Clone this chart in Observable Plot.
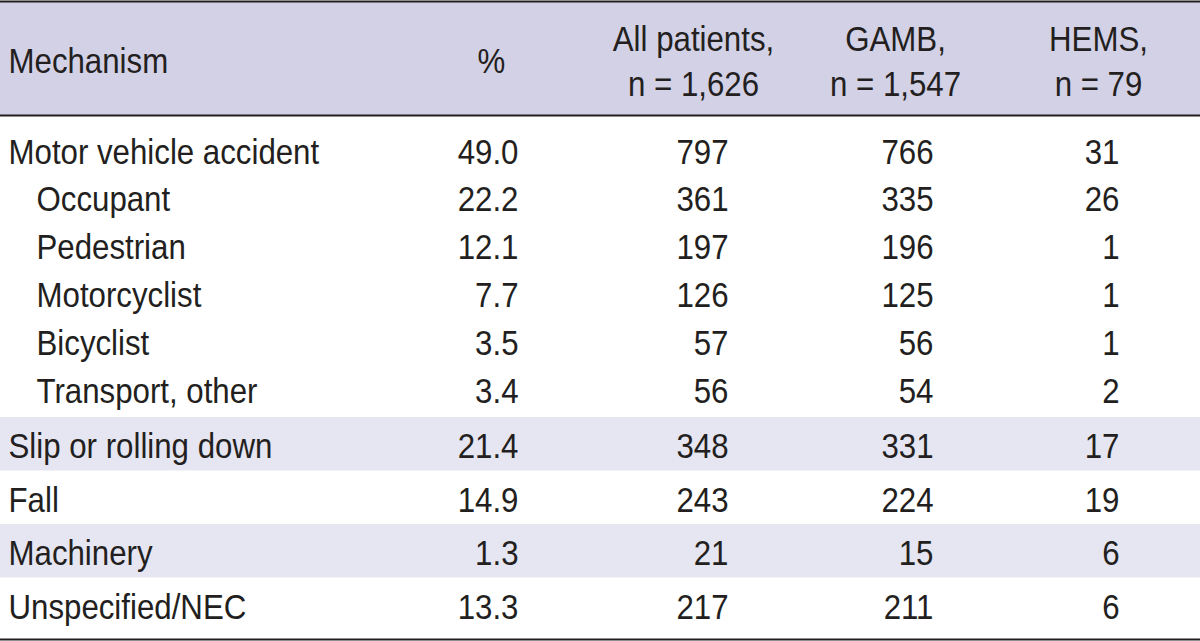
<!DOCTYPE html>
<html>
<head>
<meta charset="utf-8">
<script src="https://cdn.jsdelivr.net/npm/d3@7"></script>
<script src="https://cdn.jsdelivr.net/npm/@observablehq/plot@0.6"></script>
<style>
  html, body { margin: 0; padding: 0; background: #ffffff; }
  #chart svg { display: block; }
</style>
</head>
<body>
<div id="chart"></div>
<script>
// ---------- data ----------
const headers = ["Mechanism", "%", "All patients,\nn = 1,626", "GAMB,\nn = 1,547", "HEMS,\nn = 79"];
const mechanisms = ["Motor vehicle accident", "Occupant", "Pedestrian", "Motorcyclist", "Bicyclist",
  "Transport, other", "Slip or rolling down", "Fall", "Machinery", "Unspecified/NEC"];
const level = [0, 1, 1, 1, 1, 1, 0, 0, 0, 0];
const percent = [49.0, 22.2, 12.1, 7.7, 3.5, 3.4, 21.4, 14.9, 1.3, 13.3];
const allPatients = [797, 361, 197, 126, 57, 56, 348, 243, 21, 217];
const gamb = [766, 335, 196, 125, 56, 54, 331, 224, 15, 211];
const hems = [31, 26, 1, 1, 1, 2, 17, 19, 6, 6];
const shadedRows = ["Slip or rolling down", "Machinery"];

// ---------- layout ----------
const W = 1200, H = 641;
const FONT = "'Liberation Sans', Arial, Helvetica, sans-serif";
const FS = 35.5;
const CONDENSE = 0.88;   // horizontal squeeze to mimic a condensed face
const INK = "#231f20";
const headerTop = 2, headerBottom = 115, tableBottom = 639;
const labelX = [8, 36];                       // by level
const valueRight = [518, 728, 933, 1119];     // right edges of value columns
const headerCenter = [491, 693, 895, 1098];
const upperFirstBaseline = 163, upperPitch = 47.8; // motor vehicle group
const lowerTop = 417, lowerPitch = 53.5, lowerBaselineOffset = 40.5;

function rowBaseline(i) {
  return i < 6 ? upperFirstBaseline + upperPitch * i : lowerTop + lowerPitch * (i - 6) + lowerBaselineOffset;
}
function rowTop(i) { return lowerTop + lowerPitch * (i - 6); }

const rows = mechanisms.map((m, i) => ({
  i, mechanism: m, level: level[i],
  values: [percent[i].toFixed(1), String(allPatients[i]), String(gamb[i]), String(hems[i])]
}));
const cells = rows.flatMap(r => r.values.map((v, c) => ({row: r.i, col: c, text: v})));
const headerCells = headers.slice(1).map((h, c) => ({col: c, text: h}));
const shaded = rows.filter(r => shadedRows.includes(r.mechanism));

const textStyle = {lineAnchor: "bottom", fontSize: FS, fill: INK};

const chart = Plot.plot({
  width: W, height: H,
  margin: 0,
  x: {type: "identity"},
  y: {type: "identity"},
  style: {fontFamily: FONT, background: "#ffffff"},
  marks: [
    Plot.rect([0], {x1: 0, x2: W, y1: headerTop, y2: headerBottom, fill: "#d3d1e6"}),
    Plot.rect(shaded, {x1: 0, x2: W, y1: d => rowTop(d.i), y2: d => rowTop(d.i) + lowerPitch, fill: "#e6e5f2"}),
    Plot.ruleY([1, headerBottom, tableBottom], {x1: 0, x2: W, stroke: INK, strokeWidth: 2}),
    Plot.text([headers[0]], {x: labelX[0], y: 72, text: d => d, textAnchor: "start", ...textStyle}),
    Plot.text(headerCells, {x: d => headerCenter[d.col], y: d => d.col === 0 ? 72 : 95, text: "text",
      textAnchor: "middle", lineHeight: 45 / FS, ...textStyle}),
    Plot.text(rows, {x: d => labelX[d.level], y: d => rowBaseline(d.i), text: "mechanism",
      textAnchor: "start", ...textStyle}),
    Plot.text(cells, {x: d => valueRight[d.col], y: d => rowBaseline(d.row), text: "text",
      textAnchor: "end", ...textStyle})
  ]
});

// squeeze each text horizontally about its own anchor point
chart.querySelectorAll("text").forEach(t => {
  const tr = t.getAttribute("transform") || "";
  t.setAttribute("transform", `${tr} scale(${CONDENSE},1)`);
});
document.getElementById("chart").appendChild(chart);
</script>
</body>
</html>
